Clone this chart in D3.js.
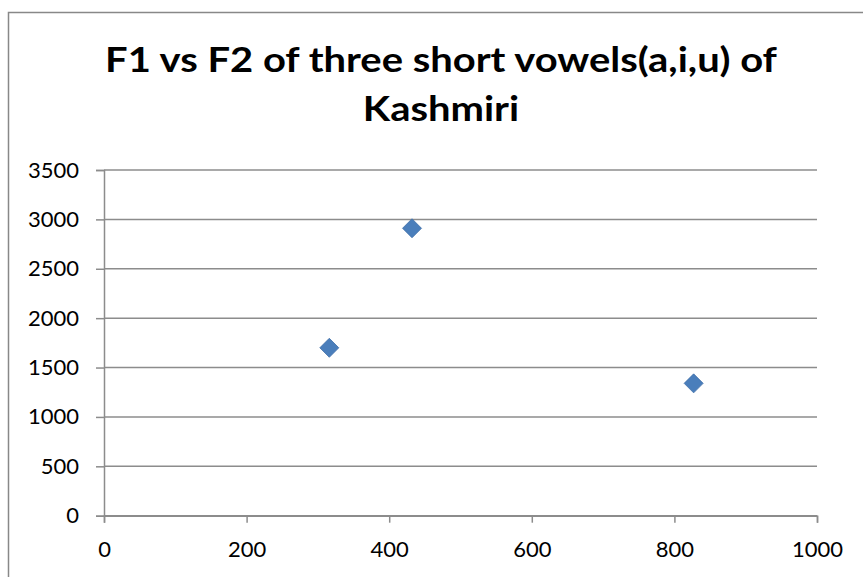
<!DOCTYPE html>
<html><head><meta charset="utf-8">
<script src="https://cdn.jsdelivr.net/npm/d3@7"></script>
<style>body{margin:0;background:#fff}svg{display:block}</style>
</head><body>
<script>
const titleLines = ["F1 vs F2 of three short vowels(a,i,u) of", "Kashmiri"];
const f1Values = [316, 432, 827];
const f2Values = [1700, 2910, 1340];
const xTicks = [0, 200, 400, 600, 800, 1000];
const yTicks = [0, 500, 1000, 1500, 2000, 2500, 3000, 3500];

const W = 863, H = 577;
const svg = d3.select("body").append("svg").attr("width", W).attr("height", H);
svg.append("rect").attr("width", W).attr("height", H).attr("fill", "#fff");
// chart border
svg.append("path").attr("d", `M8.5,${H+5} V12.5 H${W+5}`).attr("fill", "none").attr("stroke", "#888").attr("stroke-width", 1.5);

const x = d3.scaleLinear().domain([0, 1000]).range([104, 817]);
const y = d3.scaleLinear().domain([0, 3500]).range([515.7, 170]);
const font = "Lato, 'Open Sans', sans-serif";

// gridlines
svg.append("g").selectAll("line").data(yTicks).join("line")
  .attr("x1", x(0)).attr("x2", x(1000)).attr("y1", d => y(d)).attr("y2", d => y(d))
  .attr("stroke", "#8c8c8c").attr("stroke-width", 1.5);

const yAxis = svg.append("g").attr("transform", `translate(${x(0)},0)`)
  .call(d3.axisLeft(y).tickValues(yTicks).tickSize(8).tickPadding(17).tickFormat(d3.format("d")));
const xAxis = svg.append("g").attr("transform", `translate(0,${y(0)})`)
  .call(d3.axisBottom(x).tickValues(xTicks).tickSize(7).tickPadding(19).tickFormat(d3.format("d")));
[yAxis, xAxis].forEach(a => {
  a.select(".domain").attr("stroke", "#8c8c8c").attr("stroke-width", 1.5);
  a.selectAll(".tick line").attr("stroke", "#8c8c8c").attr("stroke-width", 1.5);
  a.selectAll("text").attr("font-family", font).attr("font-size", 22).attr("fill", "#000");
});

// points
const pts = f1Values.map((v, i) => ({f1: v, f2: f2Values[i]}));
svg.append("g").selectAll("path").data(pts).join("path")
  .attr("transform", d => `translate(${x(d.f1)},${y(d.f2)})`)
  .attr("d", "M0,-9.5 L9.5,0 L0,9.5 L-9.5,0 Z")
  .attr("fill", "#4a7ebb").attr("stroke", "#3f6ea8").attr("stroke-width", 0.8);

// title (cap height matched, stretched horizontally to reference width)
const cx = 441, fs = 33.5;
const tg = svg.append("g");
const t1 = tg.append("text").attr("x", 0).attr("y", 72).attr("text-anchor", "middle")
  .attr("font-family", font).attr("font-weight", "bold").attr("font-size", fs).text(titleLines[0]);
const t2 = tg.append("text").attr("x", 0).attr("y", 121).attr("text-anchor", "middle")
  .attr("font-family", font).attr("font-weight", "bold").attr("font-size", fs).text(titleLines[1]);
const s = 672 / t1.node().getComputedTextLength();
tg.attr("transform", `translate(${cx},0) scale(${s},1)`);
</script>
</body></html>
